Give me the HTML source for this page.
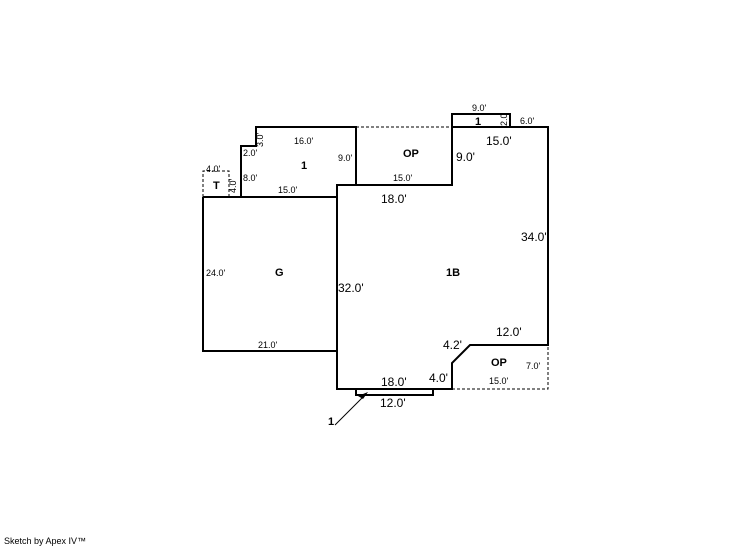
<!DOCTYPE html>
<html><head><style>body{margin:0;background:#fff}svg{display:block}text{font-family:"Liberation Sans",sans-serif;fill:#000}</style></head><body>
<svg width="746" height="547" xmlns="http://www.w3.org/2000/svg">
<g fill="none" stroke="#000" stroke-width="1" stroke-dasharray="3,2">
<path d="M356 127H452"/>
<path d="M203 197V171H229V197"/>
<path d="M452 389H548V345"/>
</g>
<g fill="none" stroke="#000" stroke-width="2">
<path d="M337 185H452V127H548V345H470L452 363V389H337Z"/>
<path d="M241 197V146H256V127H356V185"/>
<path d="M203 197H337M203 197V351H337"/>
<path d="M452 127V114H510V127"/>
<path d="M356 389V395H433V389"/>
</g>
<path d="M335 425L366 394" stroke="#000" stroke-width="1"/>
<path d="M368 392L358 396L363 399Z" fill="#000"/>
<g font-size="9">
<text x="294" y="144">16.0'</text><text x="243" y="156">2.0'</text><text x="243" y="181">8.0'</text>
<text x="278" y="193">15.0'</text><text x="338" y="161">9.0'</text><text x="206" y="172">4.0'</text>
<text x="206" y="276">24.0'</text><text x="258" y="348">21.0'</text>
<text x="393" y="181">15.0'</text><text x="472" y="111">9.0'</text><text x="520" y="124">6.0'</text>
<text x="526" y="369">7.0'</text><text x="489" y="384">15.0'</text>
<text transform="translate(263,147) rotate(-90)">3.0'</text>
<text transform="translate(236,193) rotate(-90)">4.0'</text>
<text transform="translate(507,126) rotate(-90)">2.0</text>
</g>
<g font-size="12">
<text x="381" y="203">18.0'</text><text x="486" y="145">15.0'</text><text x="456" y="161">9.0'</text>
<text x="521" y="241">34.0'</text><text x="338" y="292">32.0'</text><text x="496" y="336">12.0'</text>
<text x="443" y="349">4.2'</text><text x="429" y="382">4.0'</text><text x="381" y="386">18.0'</text><text x="380" y="407">12.0'</text>
</g>
<g font-size="11" font-weight="bold">
<text x="301" y="169">1</text><text x="213" y="189">T</text><text x="403" y="157">OP</text>
<text x="475" y="125">1</text><text x="275" y="276">G</text><text x="446" y="276">1B</text>
<text x="491" y="366">OP</text><text x="328" y="425">1</text>
</g>
<text x="4" y="544" font-size="9">Sketch by Apex IV™</text>
</svg>
</body></html>
